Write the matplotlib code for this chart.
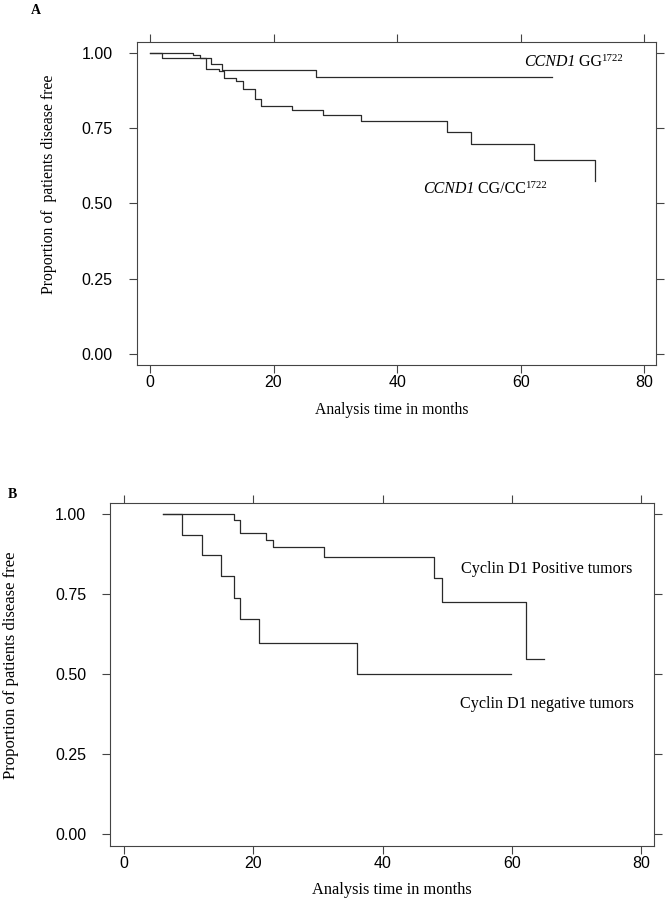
import matplotlib
matplotlib.use("Agg")
import matplotlib.pyplot as plt

# ---------------- data ----------------
x_ticks = [0, 20, 40, 60, 80]
x_tick_labels = ["0", "20", "40", "60", "80"]
y_ticks = [0.0, 0.25, 0.50, 0.75, 1.00]
y_tick_labels = ["0.00", "0.25", "0.50", "0.75", "1.00"]

# Panel A
gg_months = [0, 7.0, 8.1, 9.8, 11.7, 26.9, 65.1]
gg_surv = [1.0, 0.992, 0.981, 0.962, 0.944, 0.920, 0.920]
cg_months = [0, 2.0, 9.0, 11.2, 12.0, 14.0, 15.0, 17.0, 18.0, 23.0, 28.0,
             34.1, 48.0, 52.0, 62.1, 72.1]
cg_surv = [1.0, 0.982, 0.947, 0.938, 0.916, 0.905, 0.881, 0.846, 0.822,
           0.809, 0.792, 0.773, 0.738, 0.698, 0.645, 0.574]

# Panel B
pos_months = [6.1, 17.0, 17.9, 21.9, 23.0, 30.9, 48.0, 49.1, 62.1, 64.9]
pos_surv = [1.0, 0.981, 0.941, 0.919, 0.897, 0.866, 0.800, 0.727, 0.546, 0.546]
neg_months = [6.1, 9.0, 12.0, 15.0, 17.0, 17.9, 20.9, 36.0, 59.8]
neg_surv = [1.0, 0.937, 0.873, 0.806, 0.739, 0.672, 0.597, 0.500, 0.500]

# ---------------- style ----------------
W, H = 665, 900
fig = plt.figure(figsize=(W / 100, H / 100), dpi=100)
fig.patch.set_facecolor("white")

LC = "#2a2a2a"
serif = "Liberation Serif"
sans = "Liberation Sans"


def px_axes(left, top, right, bottom):
    return fig.add_axes([left / W, 1 - bottom / H, (right - left) / W, (bottom - top) / H])


def style(ax):
    ax.set_xlim(-2.1, 81.9)
    ax.set_ylim(-0.0365, 1.0365)
    for s in ax.spines.values():
        s.set_color("#444444")
        s.set_linewidth(0.8)
    ax.set_xticks(x_ticks)
    ax.set_xticklabels(x_tick_labels, fontfamily=sans, fontsize=11.5)
    ax.set_yticks(y_ticks)
    ax.set_yticklabels(y_tick_labels, fontfamily=sans, fontsize=11.5)
    ax.tick_params(axis="both", direction="out", length=5.5, width=0.8,
                   color="#444444", top=True, right=True,
                   labeltop=False, labelright=False)
    ax.tick_params(axis="y", pad=12)
    ax.tick_params(axis="x", pad=2)


def gene_label(ax, x, y, gene, geno, sup, size=11.5):
    t1 = ax.text(x, y, gene, fontsize=size, fontfamily=serif, style="italic",
                 va="center", ha="left")
    t2 = ax.annotate(" " + geno, xy=(1, 0), xycoords=t1, fontsize=size,
                     fontfamily=serif, va="bottom", ha="left")
    ax.annotate(sup, xy=(1, 0), xycoords=t2, xytext=(-0.9, 5.2),
                textcoords="offset points", fontsize=size * 0.68,
                fontfamily=serif, va="bottom", ha="left")


# Panel A
axA = px_axes(137, 41.7, 656, 365)
style(axA)
axA.step(gg_months, gg_surv, where="post", color=LC, lw=0.9)
axA.step(cg_months, cg_surv, where="post", color=LC, lw=0.9)
gene_label(axA, 60.5, 0.970, "CCND1", "GG", "1722")
gene_label(axA, 44.2, 0.548, "CCND1", "CG/CC", "1722")
fig.text(48.8 / W, 1 - 184 / H, "Proportion of  patients disease free",
         rotation=90, ha="center", va="center", fontfamily=serif, fontsize=11.3)
fig.text(392 / W, 1 - 410 / H, "Analysis time in months",
         ha="center", va="center", fontfamily=serif, fontsize=11.3)
fig.text(35.5 / W, 1 - 11 / H, "A", ha="center", va="center",
         fontfamily=serif, fontweight="bold", fontsize=10)

# Panel B
axB = px_axes(110.4, 502.7, 653.7, 845.7)
style(axB)
axB.step(pos_months, pos_surv, where="post", color=LC, lw=0.9)
axB.step(neg_months, neg_surv, where="post", color=LC, lw=0.9)
axB.text(52.1, 0.828, "Cyclin D1 Positive tumors", fontsize=11.6,
         fontfamily=serif, va="center", ha="left")
axB.text(52.0, 0.406, "Cyclin D1 negative tumors", fontsize=11.6,
         fontfamily=serif, va="center", ha="left")
fig.text(10.6 / W, 1 - 665 / H, "Proportion of patients disease free",
         rotation=90, ha="center", va="center", fontfamily=serif, fontsize=12)
fig.text(392 / W, 1 - 890 / H, "Analysis time in months",
         ha="center", va="center", fontfamily=serif, fontsize=11.8)
fig.text(12.5 / W, 1 - 494 / H, "B", ha="center", va="center",
         fontfamily=serif, fontweight="bold", fontsize=10)

fig.savefig("out.png", dpi=100, facecolor="white")
